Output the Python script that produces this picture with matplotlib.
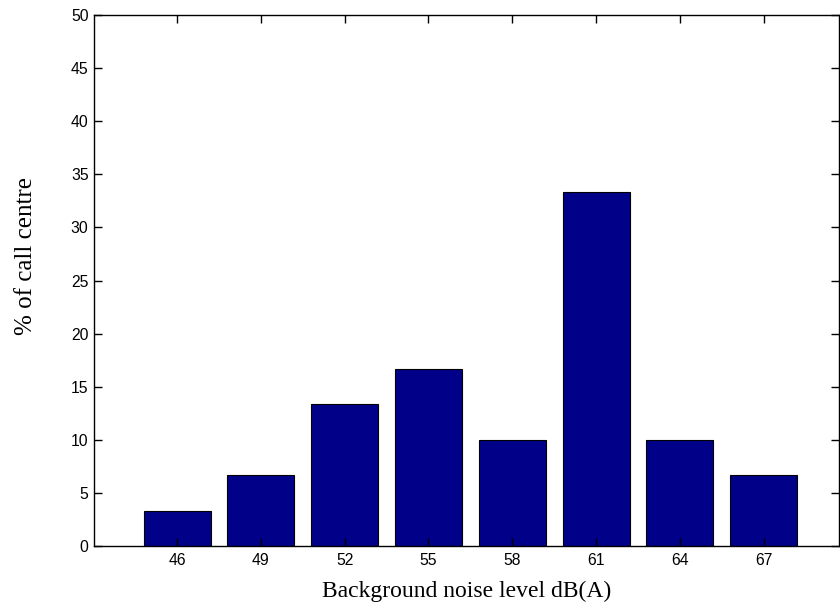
import numpy as np
import matplotlib.pyplot as plt

noise_level = [46, 49, 52, 55, 58, 61, 64, 67]
percent = [3.33, 6.67, 13.33, 16.67, 10.0, 33.33, 10.0, 6.67]
yticks = [0, 5, 10, 15, 20, 25, 30, 35, 40, 45, 50]

fig = plt.figure(figsize=(8.4, 6.03), dpi=100)
ax = fig.add_axes([0.112, 0.0945, 0.887, 0.8805])

ax.bar(noise_level, percent, width=2.4, color="#000088", edgecolor="black", linewidth=0.8)

ax.set_xlim(43.03, 69.7)
ax.set_ylim(0, 50)
ax.set_xticks(noise_level)
ax.set_yticks(yticks)
ax.tick_params(direction="in", length=6, width=1, top=True, right=True,
               labelsize=11.3)
ax.tick_params(axis="y", pad=4)
ax.tick_params(axis="x", pad=5)
for lab in ax.get_xticklabels() + ax.get_yticklabels():
    lab.set_family("Liberation Sans")
for s in ax.spines.values():
    s.set_linewidth(1)

ax.set_xlabel("Background noise level dB(A)", family="Liberation Serif", fontsize=17, labelpad=9.5)
ax.set_ylabel("% of call centre", family="Liberation Serif", fontsize=18)
ax.yaxis.set_label_coords(-0.077, 0.546)

fig.savefig("out.png", dpi=100)
